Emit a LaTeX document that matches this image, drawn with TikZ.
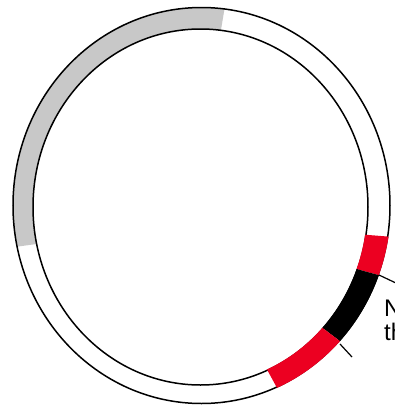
\documentclass[tikz,border=0pt]{standalone}
\usepackage{fontspec}
\setmainfont{Liberation Sans}
\definecolor{segred}{HTML}{EC0021}
\definecolor{seggray}{HTML}{C8C8C8}
\tikzset{
  outline/.style={draw=black, line width=1.5pt},
  tick/.style={draw=black, line width=1.2pt},
  lbl/.style={anchor=base west, inner sep=0pt, font=\fontsize{24}{26}\selectfont}
}
% ring segment: #1 = colour, #2 = start angle, #3 = end angle, #4 = extra width
\newcommand{\ringseg}[4]{%
  \fill[#1] plot[domain=#2:#3, samples=60, variable=\t]
      ({201.5+(188.5+#4)*cos(\t)},{205.5-(198+#4)*sin(\t)})
    -- plot[domain=#3:#2, samples=60, variable=\t]
      ({200.5+(167.5-#4)*cos(\t)},{207-(178-#4)*sin(\t)})
    -- cycle;}
\begin{document}
\begin{tikzpicture}[x=1pt,y=-1pt]
\useasboundingbox (0,0) rectangle (395,408);
\clip (0,0) rectangle (395,408);
% grey segment under the outlines
\ringseg{seggray}{83}{192}{0}
% ring outlines
\draw[outline] (201.5,205.5) ellipse [x radius=188.5, y radius=198];
\draw[outline] (200.5,207) ellipse [x radius=167.5, y radius=178];
% coloured segments over the outlines
\ringseg{segred}{-9}{-20.5}{0.9}
\ringseg{black}{-20.5}{-43}{0.9}
\ringseg{segred}{-43}{-66.5}{0.9}
% ticks
\coordinate (t1a) at (379,275);
\coordinate (t1b) at (398,284);
\coordinate (t2a) at (340,344);
\coordinate (t2b) at (352,357);
\draw[tick] (t1a) -- (t1b);
\draw[tick] (t2a) -- (t2b);
% labels (cut by the right edge, as in the reference)
\node[lbl] (l1) at (384,316) {N};
\node[lbl] (l2) at (384,340) {th};
\end{tikzpicture}
\end{document}
